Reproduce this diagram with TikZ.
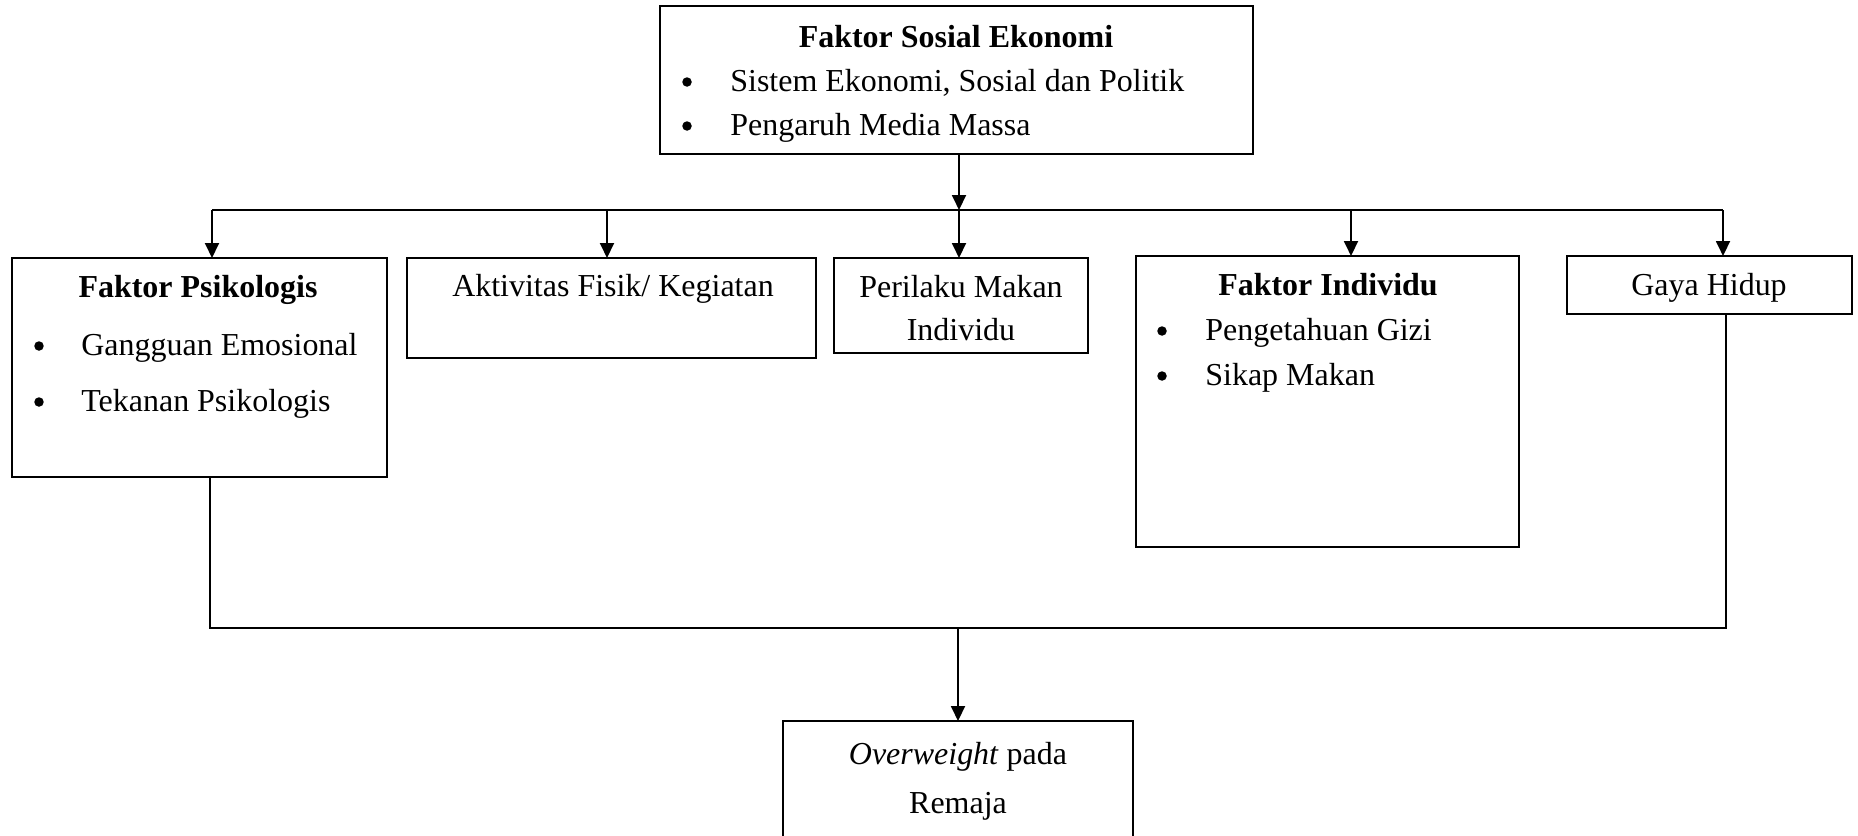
\documentclass[tikz,border=0pt]{standalone}
\usepackage{fontspec}
\setmainfont{Liberation Serif}
\usetikzlibrary{arrows.meta}

\begin{document}
\begin{tikzpicture}[x=0.02cm,y=-0.02cm,
  box/.style={draw,line width=1.1pt,anchor=north west,inner sep=0pt,outer sep=0pt},
  txt/.style={anchor=base,inner sep=0pt,font=\fontsize{18.2}{22}\selectfont},
  item/.style={txt,anchor=base west},
  dot/.style={circle,fill,inner sep=0pt,minimum size=0.19cm},
  link/.style={line width=1.1pt},
  arr/.style={link,-{Triangle[length=0.3cm,width=0.28cm]}}]
\useasboundingbox (0,0) rectangle (1858,835);

% boxes
\node[box,minimum width=11.86cm,minimum height=2.96cm] (soc) at (660,6) {};
\node[box,minimum width=7.5cm,minimum height=4.38cm] (psi) at (12,258) {};
\node[box,minimum width=8.18cm,minimum height=2cm] (akt) at (407,258) {};
\node[box,minimum width=5.08cm,minimum height=1.9cm] (per) at (834,258) {};
\node[box,minimum width=7.66cm,minimum height=5.82cm] (ind) at (1136,256) {};
\node[box,minimum width=5.7cm,minimum height=1.16cm] (gay) at (1567,256) {};
\node[box,minimum width=7cm,minimum height=3cm] (res) at (783,721) {};

% sosial ekonomi
\node[txt] (socT) at (956,47) {\bfseries Faktor Sosial Ekonomi};
\node[dot] (socD1) at (687,82) {};
\node[item] (socA) at (730,91) {Sistem Ekonomi, Sosial dan Politik};
\node[dot] (socD2) at (687,126) {};
\node[item] (socB) at (730,135) {Pengaruh Media Massa};

% psikologis
\node[txt] (psiT) at (198,297) {\bfseries Faktor Psikologis};
\node[dot] (psiD1) at (39,346) {};
\node[item] (psiA) at (81,355) {Gangguan Emosional};
\node[dot] (psiD2) at (39,402) {};
\node[item] (psiB) at (81,411) {Tekanan Psikologis};

% aktivitas, perilaku
\node[txt] (aktT) at (613,296) {Aktivitas Fisik/ Kegiatan};
\node[txt] (perT) at (961,297) {Perilaku Makan};
\node[txt] (perT2) at (961,340) {Individu};

% individu
\node[txt] (indT) at (1328,295) {\bfseries Faktor Individu};
\node[dot] (indD1) at (1162,331) {};
\node[item] (indA) at (1205,340) {Pengetahuan Gizi};
\node[dot] (indD2) at (1162,376) {};
\node[item] (indB) at (1205,385) {Sikap Makan};

% gaya hidup, hasil
\node[txt] (gayT) at (1709,295) {Gaya Hidup};
\node[txt] (resT) at (958,764) {\textit{Overweight} pada};
\node[txt] (resT2) at (958,813) {Remaja};

% junctions
\coordinate (jpsi) at (212,210);
\coordinate (jakt) at (607,210);
\coordinate (jper) at (959,210);
\coordinate (jind) at (1351,210);
\coordinate (jgay) at (1723,210);
\coordinate (bpsi) at (210,628);
\coordinate (bres) at (958,628);
\coordinate (bgay) at (1726,628);

% top tree
\draw[arr] (soc.south -| jper) -- (jper);
\draw[link] (jpsi) -- (jgay);
\draw[arr] (jpsi) -- (jpsi |- psi.north);
\draw[arr] (jakt) -- (jakt |- akt.north);
\draw[arr] (jper) -- (jper |- per.north);
\draw[arr] (jind) -- (jind |- ind.north);
\draw[arr] (jgay) -- (jgay |- gay.north);

% bottom tree
\draw[link] (psi.south -| bpsi) -- (bpsi) -- (bgay) -- (gay.south -| bgay);
\draw[arr] (bres) -- (bres |- res.north);
\end{tikzpicture}
\end{document}
